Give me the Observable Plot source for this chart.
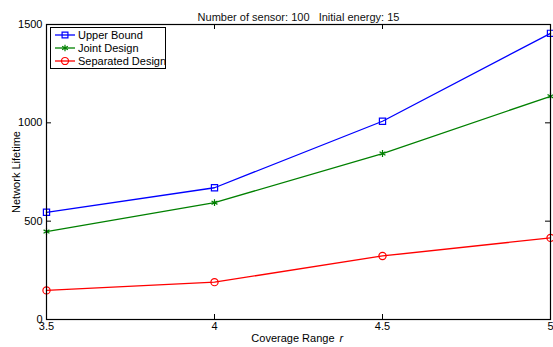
<!DOCTYPE html>
<html><head><meta charset="utf-8">
<script src="https://cdn.jsdelivr.net/npm/d3@7"></script>
<script src="https://cdn.jsdelivr.net/npm/@observablehq/plot@0.6"></script>
<style>
body{margin:0;background:#fff;}
#chart{position:relative;width:553px;height:347px;font-family:"Liberation Sans",Arial,sans-serif;}
#chart svg text{white-space:pre;}
#legend{position:absolute;left:50px;top:27px;}
</style>
</head><body>
<div id="chart"></div>
<script>
const xValues = [3.5, 4, 4.5, 5];
const upperBound = [545, 670, 1008, 1455];
const jointDesign = [447, 594, 844, 1135];
const separatedDesign = [148, 190, 323, 415];
const seriesNames = ["Upper Bound", "Joint Design", "Separated Design"];
const seriesColors = ["#0000ff", "#008000", "#ff0000"];
const seriesSymbols = ["square", "asterisk", "circle"];
const xTicks = [3.5, 4, 4.5, 5];
const yTicks = [0, 500, 1000, 1500];
const titleText = "Number of sensor: 100   Initial energy: 15";
const xLabel = "Coverage Range";
const xLabelVar = "r";
const yLabel = "Network Lifetime";

const W = 553, H = 347, mL = 46, mR = 3, mT = 24, mB = 28;
const plotW = W - mL - mR, plotH = H - mT - mB, tickLen = 5;
const seriesValues = [upperBound, jointDesign, separatedDesign];
const markerR = {square: 3.5, asterisk: 3.2, circle: 3.6};

const marks = [];
seriesValues.forEach((vals, i) => {
  const data = xValues.map((x, j) => ({x, y: vals[j]}));
  marks.push(Plot.line(data, {x: "x", y: "y", stroke: seriesColors[i], strokeWidth: 1.3}));
  marks.push(Plot.dot(data, {x: "x", y: "y", stroke: seriesColors[i], fill: "none", symbol: seriesSymbols[i], r: markerR[seriesSymbols[i]], strokeWidth: 1.2}));
});
marks.push(
  Plot.tickX(xTicks, {x: d => d, insetTop: plotH - tickLen, stroke: "black"}),
  Plot.tickX(xTicks, {x: d => d, insetBottom: plotH - tickLen, stroke: "black"}),
  Plot.tickY(yTicks, {y: d => d, insetRight: plotW - tickLen, stroke: "black"}),
  Plot.tickY(yTicks, {y: d => d, insetLeft: plotW - tickLen, stroke: "black"}),
  Plot.axisX({ticks: xTicks, tickSize: 0, tickPadding: 3, tickFormat: d => String(d), label: null}),
  Plot.axisY({ticks: yTicks, tickSize: 0, tickPadding: 4, tickFormat: d => String(d), label: yLabel, labelAnchor: "center", labelOffset: 34, labelArrow: "none"}),
  Plot.frame({stroke: "black", strokeWidth: 1.2}),
  Plot.text([titleText], {text: d => d, frameAnchor: "top", dy: -11, fill: "#111"}),
  Plot.text([xLabel], {text: d => d, frameAnchor: "bottom", dy: 22, dx: 36, textAnchor: "end"}),
  Plot.text([xLabelVar], {text: d => d, frameAnchor: "bottom", dy: 22, dx: 41, textAnchor: "start", fontStyle: "italic"})
);

const chart = Plot.plot({
  width: W, height: H, marginLeft: mL, marginRight: mR, marginTop: mT, marginBottom: mB,
  style: {fontFamily: '"Liberation Sans", Arial, sans-serif', fontSize: "11px", background: "white", color: "black"},
  x: {domain: [3.5, 5]},
  y: {domain: [0, 1500]},
  marks
});
const root = document.getElementById("chart");
root.appendChild(chart);

// Legend
const lw = 116, lh = 42;
const leg = d3.select(root).append("svg").attr("id", "legend").attr("width", lw).attr("height", lh)
  .style("font-family", '"Liberation Sans", Arial, sans-serif').style("font-size", "11px");
leg.append("rect").attr("x", 0.5).attr("y", 0.5).attr("width", lw - 1).attr("height", lh - 1).attr("fill", "white").attr("stroke", "black");
const symMap = {square: d3.symbolSquare, asterisk: d3.symbolAsterisk, circle: d3.symbolCircle};
seriesNames.forEach((name, i) => {
  const cy = 8 + i * 13;
  const g = leg.append("g");
  g.append("line").attr("x1", 5).attr("x2", 25).attr("y1", cy).attr("y2", cy).attr("stroke", seriesColors[i]).attr("stroke-width", 1.3);
  const s = seriesSymbols[i];
  const size = s === "asterisk" ? 30 : s === "square" ? 34 : 38;
  g.append("path").attr("d", d3.symbol(symMap[s], size)()).attr("transform", `translate(15,${cy})`)
    .attr("fill", "none").attr("stroke", seriesColors[i]).attr("stroke-width", 1.2);
  g.append("text").attr("x", 28).attr("y", cy).attr("dy", "0.35em").text(name);
});
</script>
</body></html>
